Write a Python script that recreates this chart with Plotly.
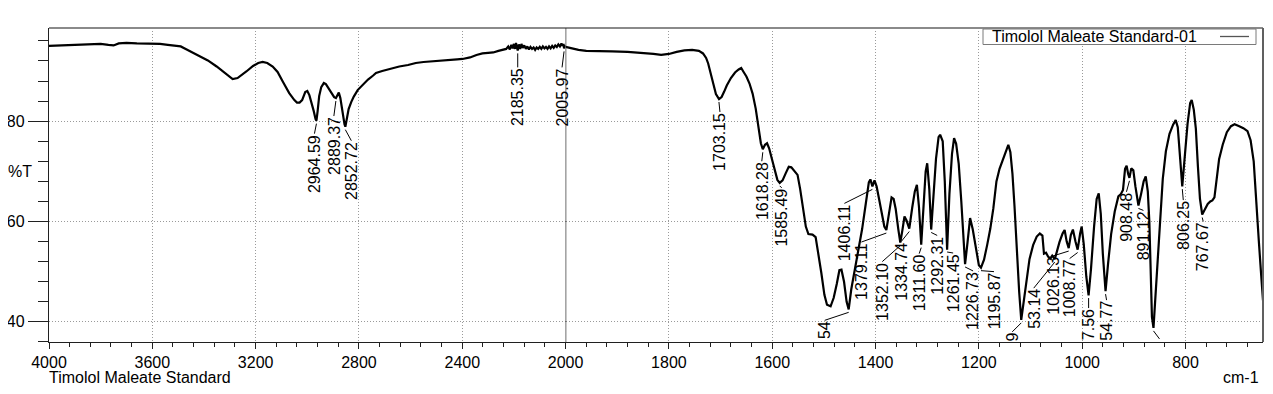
import numpy as np
import plotly.graph_objects as go

# ---------------- data ----------------
wavenumber = [
    4000, 3960, 3920, 3880, 3840, 3800, 3770, 3750, 3730, 3700, 3660, 3620, 3600, 3570, 3540, 3510,
    3490, 3467, 3440, 3416, 3385, 3351, 3320, 3300, 3289, 3270, 3250, 3236, 3210, 3190, 3173, 3155,
    3134, 3115, 3094, 3070, 3050, 3040, 3030, 3020, 3008, 3000, 2992, 2984, 2975, 2968, 2964.6, 2960,
    2954, 2946, 2936, 2928, 2920, 2912, 2904, 2896, 2889, 2884, 2878, 2872, 2864, 2856, 2852.7, 2847,
    2840, 2830, 2820, 2805, 2786, 2765, 2745, 2734, 2710, 2680, 2644, 2610, 2580, 2550, 2510, 2480,
    2451, 2420, 2399, 2370, 2345, 2322, 2300, 2280, 2260, 2245, 2230, 2222, 2216, 2210, 2205, 2200,
    2196, 2192, 2188, 2185.4, 2181, 2176, 2171, 2166, 2160, 2154, 2148, 2142, 2136, 2130, 2124, 2118,
    2112, 2106, 2100, 2094, 2088, 2082, 2076, 2070, 2064, 2058, 2052, 2046, 2040, 2034, 2028, 2022,
    2016, 2012, 2008, 2006, 2003, 2000,
    1990, 1975, 1960, 1940, 1910, 1880, 1850, 1830, 1815, 1800, 1785, 1770, 1755, 1742, 1734, 1728,
    1724, 1719, 1714, 1709, 1703, 1698, 1693, 1688, 1680, 1672, 1665, 1660, 1656, 1650, 1644, 1638,
    1632, 1627, 1622, 1618.3, 1614, 1610, 1606, 1601, 1595, 1590, 1585.5, 1580, 1574, 1568, 1563, 1557,
    1551, 1546, 1540, 1535, 1530, 1522, 1516, 1511, 1505, 1499, 1494, 1487, 1481, 1475, 1470, 1466,
    1461, 1456, 1452, 1447, 1440, 1433, 1426, 1419, 1413, 1410, 1406.1, 1402, 1398, 1393, 1388, 1383,
    1379.1, 1374, 1369, 1365, 1361, 1356, 1352.1, 1348, 1344, 1340, 1334.7, 1329, 1324, 1320, 1316, 1311.6,
    1307, 1303, 1300, 1296, 1292.3, 1288, 1283, 1278, 1275, 1270, 1266, 1261.5, 1257, 1252, 1248, 1244,
    1239, 1234, 1230, 1226.7, 1222, 1217, 1212, 1206, 1200, 1195.9, 1190, 1184, 1178, 1172, 1166, 1160,
    1152, 1146, 1143, 1139, 1135, 1131, 1127, 1122, 1118, 1114, 1109, 1102, 1095, 1088, 1082, 1077,
    1074, 1070, 1066, 1062, 1058, 1053.1, 1049, 1044, 1038, 1034, 1030, 1026.1, 1022, 1018, 1013, 1008.8,
    1004, 1001, 997, 992, 987.6, 983, 977, 972, 968, 964, 960, 954.8, 950, 944, 937, 930,
    925, 921, 917, 914, 911, 908.5, 905, 901, 897, 891.1, 886, 881, 877, 873, 870, 868,
    865, 862, 858, 854, 849, 844, 838, 831, 824, 819, 815, 811, 806.3, 801, 796, 791,
    788, 784, 780, 776, 772, 767.7, 763, 757, 752, 748, 744, 740, 735, 728, 720, 712,
    705, 696, 688, 680, 674, 668, 663, 658, 654, 650,
]
transmittance = [
    95.0, 95.1, 95.2, 95.3, 95.3, 95.4, 95.2, 95.1, 95.5, 95.6, 95.5, 95.5, 95.5, 95.4, 95.2, 95.0,
    94.9, 94.3, 93.6, 92.9, 92.1, 90.9, 89.6, 88.7, 88.4, 88.6, 89.3, 89.9, 91.0, 91.6, 91.8, 91.6,
    90.9, 89.8, 87.8, 85.6, 84.2, 83.7, 83.7, 84.2, 85.8, 86.0, 85.2, 83.8, 82.0, 80.4, 80.1, 82.0,
    85.0, 86.8, 87.6, 87.4, 86.8, 86.0, 85.6, 84.8, 84.6, 85.1, 85.7, 84.6, 81.8, 79.4, 78.9, 80.4,
    82.4, 83.8, 84.9, 86.2, 87.3, 88.3, 89.1, 89.6, 90.0, 90.4, 90.9, 91.2, 91.6, 91.8, 92.0, 92.1,
    92.2, 92.3, 92.4, 92.7, 93.2, 93.5, 93.6, 93.7, 94.0, 94.2, 94.4, 94.9, 94.3, 95.2, 94.5, 95.4,
    94.4, 95.6, 94.5, 94.1, 95.3, 94.4, 95.4, 94.6, 95.1, 94.4, 94.9, 94.3, 94.8, 94.4, 94.7, 94.2,
    94.7, 94.4, 94.8, 94.4, 94.9, 94.5, 94.8, 94.4, 94.9, 94.5, 95.0, 94.6, 95.1, 94.8, 95.3, 94.9,
    95.5, 95.0, 95.4, 94.5, 95.0, 94.8,
    94.5, 94.2, 94.0, 93.9, 93.9, 93.8, 93.6, 93.4, 93.2, 93.4, 93.8, 94.1, 94.2, 94.0, 93.5, 92.6,
    91.5, 89.6, 87.4, 85.4, 84.4, 84.8, 85.9, 87.1, 88.6, 89.7, 90.3, 90.6, 89.9, 88.9, 87.5, 85.5,
    82.5, 78.8, 75.6, 74.4, 75.3, 75.6, 74.6, 72.6, 69.9, 68.3, 67.7, 68.2, 69.6, 70.9, 70.8, 70.1,
    69.3, 66.5, 62.5, 59.0, 57.5, 57.4, 56.9, 54.0, 49.8, 45.4, 43.4, 43.1, 44.8, 47.6, 50.3, 50.4,
    48.0, 44.0, 42.5, 46.5, 50.5, 54.0, 58.5, 63.5, 67.8, 68.4, 67.0, 68.2, 67.0, 64.4, 61.5, 59.0,
    58.3, 61.5, 64.8, 64.5, 62.5, 58.5, 55.8, 58.3, 61.0, 60.2, 58.6, 62.8, 66.0, 67.3, 63.0, 55.4,
    62.8, 70.0, 71.6, 66.5, 58.4, 65.5, 72.5, 76.8, 77.3, 76.0, 68.0, 54.4, 65.5, 73.5, 76.6, 75.5,
    71.5, 64.0, 56.5, 51.5, 55.8, 60.7, 58.5, 54.5, 51.3, 50.8, 52.4, 55.3, 58.5, 62.6, 68.0, 70.5,
    72.8, 74.8, 75.3, 73.8, 69.5, 63.0, 55.0, 46.0, 40.4, 43.5, 48.0, 52.5, 55.3, 57.0, 57.6, 57.2,
    53.6, 53.8, 53.0, 52.6, 53.2, 52.5, 54.0, 55.9, 57.6, 58.3, 56.0, 54.7, 57.3, 58.4, 56.0, 54.4,
    57.6, 59.0, 55.5, 49.0, 45.3, 50.5, 59.0, 64.5, 65.6, 61.5, 53.5, 46.1, 51.5, 57.5, 62.0, 65.0,
    65.5, 66.3, 70.5, 71.1, 69.5, 68.7, 70.6, 70.2, 67.0, 63.2, 65.5, 68.0, 69.0, 66.0, 60.0, 50.0,
    41.0, 38.8, 45.0, 51.5, 61.0, 68.5, 74.0, 77.5, 79.3, 80.2, 78.8, 74.0, 67.0, 73.5, 79.5, 83.6,
    84.2, 82.3, 78.5, 71.0, 64.5, 61.4, 62.2, 63.5, 64.0, 64.2, 64.8, 68.0, 72.4, 75.3, 77.8, 79.0,
    79.4, 79.0, 78.6, 78.0, 76.2, 72.0, 65.0, 56.0, 50.0, 44.3,
]

# peak picks: position (cm-1) and the label text that is visible in the reference
peak_wn = [2964.59, 2889.37, 2852.72, 2185.35, 2005.97, 1703.15, 1618.28, 1585.49, 1452.0,
           1406.11, 1379.11, 1352.10, 1334.74, 1311.60, 1292.31, 1261.45, 1226.73, 1195.87,
           1118.0, 1053.14, 1026.13, 1008.77, 987.56, 954.77, 908.48, 891.12, 862.0, 806.25, 767.67]
peak_text = ["2964.59", "2889.37", "2852.72", "2185.35", "2005.97", "1703.15", "1618.28", "1585.49", "54",
             "1406.11", "1379.11", "1352.10", "1334.74", "1311.60", "1292.31", "1261.45", "1226.73", "1195.87",
             "9", "53.14", "1026.13", "1008.77", "7.56", "54.77", "908.48", "891.12", "", "806.25", "767.67"]

x_ticks_high = [4000, 3600, 3200, 2800, 2400]
x_ticks_low = [2000, 1800, 1600, 1400, 1200, 1000, 800]
y_ticks = [40, 60, 80]

sample_name = "Timolol Maleate Standard"
legend_name = "Timolol Maleate Standard-01"

# ---------------- layout / styling ----------------
BREAK = 2000          # axis is expanded 2x below 2000 cm-1
X_HIGH = [4000, BREAK]
X_LOW = [BREAK, 650]
Y_RANGE = [35.99, 98.57]
OFF = 8               # default page margin around the figure
W, H = 1273 - 2 * OFF, 394 - 2 * OFF
ML, MT = 49 - OFF, 28 - OFF
MR = W - (1263 - OFF)
MB = H - (342 - OFF)
PW, PH = W - ML - MR, H - MT - MB
split = (X_HIGH[0] - X_HIGH[1]) / 2.0
split = split / (split + (X_LOW[0] - X_LOW[1]))

# label placement: pixel offset of label top-centre from the peak point (dx, dy)
label_offsets = [(-2, 14), (-2, 19), (6, 15), (0, 18), (-2, 20), (1, 14), (-1, 13), (2, 6), (-24, 12),
                 (-28, 18), (-25, 13), (-18, 20), (-8, 14), (-2, 10), (6, 7), (6, 5), (8, 8), (13, 5),
                 (-9, 13), (-21, 30), (-16, 9), (-8, 10), (0, 14), (1, 10), (-3, 15), (5, 6), (6, 12),
                 (1, 15), (1, 8)]

FONT = "Liberation Sans, Arial, sans-serif"
wn = np.array(wavenumber, dtype=float)
tr = np.array(transmittance, dtype=float)
hi = wn >= BREAK
lo = wn <= BREAK

fig = go.Figure()
line_style = dict(color="#000000", width=2.2)
fig.add_trace(go.Scatter(x=wn[hi], y=tr[hi], xaxis="x", yaxis="y", mode="lines",
                         line=line_style, showlegend=False, hoverinfo="skip"))
fig.add_trace(go.Scatter(x=wn[lo], y=tr[lo], xaxis="x2", yaxis="y", mode="lines",
                         line=line_style, showlegend=False, hoverinfo="skip"))

grid = dict(showgrid=True, gridcolor="#9a9a9a", gridwidth=1, griddash="1px,2px")
xcommon = dict(showline=True, linecolor="#202020", linewidth=1.3, ticks="outside", ticklen=6,
               tickcolor="#202020", tickwidth=1.2, zeroline=False, anchor="y", automargin=False,
               ticklabelstandoff=0,
               tickfont=dict(family=FONT, size=16, color="#000000"), **grid)
fig.update_layout(
    template="none",
    width=W, height=H, margin=dict(l=ML, r=MR, t=MT, b=MB, pad=0, autoexpand=False),
    paper_bgcolor="white", plot_bgcolor="white",
    xaxis=dict(domain=[0, split], range=X_HIGH, tickmode="array", tickvals=x_ticks_high,
               ticktext=[str(v) for v in x_ticks_high],
               minor=dict(ticks="outside", ticklen=4, dtick=80, tick0=0, tickcolor="#202020",
                          showgrid=False), **xcommon),
    xaxis2=dict(domain=[split, 1], range=X_LOW, tickmode="array", tickvals=x_ticks_low,
                ticktext=[str(v) for v in x_ticks_low],
                minor=dict(ticks="outside", ticklen=4, dtick=40, tick0=0, tickcolor="#202020",
                           showgrid=False), **xcommon),
    yaxis=dict(range=Y_RANGE, anchor="x", showline=True, linecolor="#202020", linewidth=1.3,
               ticks="outside", ticklen=20, tickwidth=1.2, tickcolor="#202020", automargin=False,
               tickmode="array", tickvals=y_ticks, ticktext=[str(v) for v in y_ticks],
               tickfont=dict(family=FONT, size=16, color="#000000"), zeroline=False,
               minor=dict(ticks="outside", ticklen=10, dtick=4, tick0=0, tickcolor="#202020",
                          showgrid=False), **grid),
    showlegend=False,
)

def px_x(p):
    """page pixel (reference) -> paper fraction"""
    return (p - OFF - ML) / PW

def px_y(p):
    return (H - MB - (p - OFF)) / PH

shapes = []
annotations = []
# frame: top and right borders in grey, solid line at the 2000 cm-1 break
shapes.append(dict(type="line", xref="paper", yref="paper", x0=0, x1=1, y0=1, y1=1,
                   line=dict(color="#8a8a8a", width=2)))
shapes.append(dict(type="line", xref="paper", yref="paper", x0=1, x1=1, y0=0, y1=1,
                   line=dict(color="#606060", width=2)))
shapes.append(dict(type="line", xref="x2", yref="paper", x0=BREAK, x1=BREAK, y0=0, y1=1,
                   line=dict(color="#202020", width=1.3)))

# peak labels and leader lines
for w0, txt, (dx, dy) in zip(peak_wn, peak_text, label_offsets):
    xr = "x" if w0 >= BREAK else "x2"
    t0 = float(np.interp(w0, wn[::-1], tr[::-1]))
    shapes.append(dict(type="line", xref=xr, yref="y", xsizemode="pixel", ysizemode="pixel",
                       xanchor=w0, yanchor=t0, x0=0, x1=dx, y0=-3, y1=-(dy - 1),
                       line=dict(color="#000000", width=1)))
    if txt:
        annotations.append(dict(x=w0, y=t0, xref=xr, yref="y", text=txt, textangle=-90,
                                showarrow=False, xanchor="center", yanchor="top",
                                xshift=dx, yshift=-dy, borderpad=0, borderwidth=0,
                                font=dict(family=FONT, size=16, color="#000000")))

# y-axis title placed like a tick label
annotations.append(dict(x=px_x(OFF), y=70, xref="paper", yref="y", text="%T", showarrow=False,
                        xanchor="left", yanchor="middle", borderpad=0, borderwidth=0,
                        font=dict(family=FONT, size=16, color="#000000")))
# sample name and unit under the axis
annotations.append(dict(x=0, y=px_y(377), xref="paper", yref="paper", text=sample_name,
                        showarrow=False, xanchor="left", yanchor="middle",
                        borderpad=0, borderwidth=0,
                        font=dict(family=FONT, size=16, color="#000000")))
annotations.append(dict(x=px_x(1259), y=px_y(377), xref="paper", yref="paper", text="cm-1",
                        showarrow=False, xanchor="right", yanchor="middle",
                        borderpad=0, borderwidth=0,
                        font=dict(family=FONT, size=16, color="#000000")))

# legend box (text first, line sample to the right)
shapes.append(dict(type="rect", xref="paper", yref="paper", x0=px_x(983), x1=px_x(1256),
                   y0=px_y(44.5), y1=px_y(29), fillcolor="white",
                   line=dict(color="#7a7a7a", width=1), layer="above"))
shapes.append(dict(type="line", xref="paper", yref="paper", x0=px_x(1220), x1=px_x(1249),
                   y0=px_y(36.5), y1=px_y(36.5), line=dict(color="#555555", width=1.3),
                   layer="above"))
annotations.append(dict(x=px_x(991), y=px_y(36.8), xref="paper", yref="paper", text=legend_name,
                        showarrow=False, xanchor="left", yanchor="middle", borderpad=0,
                        font=dict(family=FONT, size=16, color="#000000")))

fig.update_layout(shapes=shapes, annotations=annotations)
fig.write_html("out.html")
